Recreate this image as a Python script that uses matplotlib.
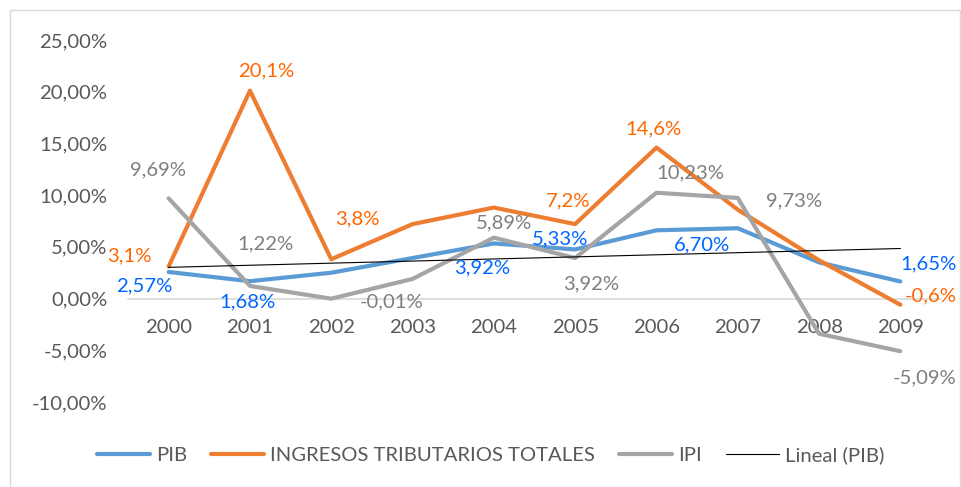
import numpy as np
import matplotlib
matplotlib.use("Agg")
import matplotlib.pyplot as plt
from matplotlib.patches import Rectangle

# -----------------------------
# Data
# -----------------------------
years = ["2000", "2001", "2002", "2003", "2004", "2005", "2006", "2007", "2008", "2009"]
pib = [2.57, 1.68, 2.5, 3.92, 5.33, 4.75, 6.6, 6.8, 3.5, 1.65]
ingresos = [3.1, 20.1, 3.8, 7.2, 8.8, 7.2, 14.6, 8.6, 3.7, -0.6]
ipi = [9.69, 1.22, -0.01, 1.9, 5.89, 3.92, 10.23, 9.73, -3.4, -5.09]

y_ticks = [-10, -5, 0, 5, 10, 15, 20, 25]

# data labels: (index, text, dx, dy) offsets in pixels from the point
pib_labels = [(0, "2,57%", -24, -14), (1, "1,68%", -2, -21), (4, "3,92%", -12, -24),
              (5, "5,33%", -15, 11), (6, "6,70%", 46, -15), (9, "1,65%", 28, 18)]
ing_labels = [(0, "3,1%", -39, 11), (1, "20,1%", 16, 20), (2, "3,8%", 26, 40),
              (5, "7,2%", -7, 23), (6, "14,6%", -3, 19), (9, "-0,6%", 30, 9)]
ipi_labels = [(0, "9,69%", -11, 28), (1, "1,22%", 16, 42), (2, "-0,01%", 60, -3),
              (4, "5,89%", 10, 15), (5, "3,92%", 16, -26), (6, "10,23%", 34, 20),
              (7, "9,73%", 56, -3), (9, "-5,09%", 24, -27)]

BLUE, ORANGE, GRAY = "#5B9BD5", "#ED7D31", "#A5A5A5"
FONT = "Lato"
FS = 14.6

plt.rcParams["font.family"] = [FONT, "DejaVu Sans"]

fig = plt.figure(figsize=(9.61, 4.87), dpi=100)
ax = fig.add_axes([128 / 961, 85 / 487, 813 / 961, 362 / 487])

# chart border
fig.patches.append(Rectangle((10 / 961, -0.01), 950 / 961, 1 - 10 / 487 + 0.01,
                             transform=fig.transFigure, fill=False,
                             edgecolor="#D9D9D9", linewidth=1))

x = np.arange(len(years))
ax.plot(x, pib, color=BLUE, lw=3.0, solid_capstyle="round", label="PIB", zorder=3)
ax.plot(x, ingresos, color=ORANGE, lw=3.0, solid_capstyle="round",
        label="INGRESOS TRIBUTARIOS TOTALES", zorder=3)
ax.plot(x, ipi, color=GRAY, lw=3.0, solid_capstyle="round", label="IPI", zorder=3)

# linear trend of PIB
coef = np.polyfit(x, pib, 1)
ax.plot(x, np.polyval(coef, x), color="black", lw=0.8, label="Lineal (PIB)", zorder=4)

def put_labels(values, labels, color):
    for i, txt, dx, dy in labels:
        ax.annotate(txt, (x[i], values[i]), xytext=(dx, dy), textcoords="offset pixels",
                    ha="center", va="center", color=color, fontsize=FS, zorder=5)

put_labels(pib, pib_labels, "#0066FF")
put_labels(ingresos, ing_labels, "#FF6600")
put_labels(ipi, ipi_labels, "#7F7F7F")

ax.set_xlim(-0.5, len(years) - 0.5)
ax.set_ylim(-10, 25)
ax.set_yticks(y_ticks)
ax.set_yticklabels([f"{v:.2f}%".replace(".", ",") for v in y_ticks])
ax.set_xticks(x)
ax.set_xticklabels(years)

for s in ["top", "right", "left"]:
    ax.spines[s].set_visible(False)
ax.spines["bottom"].set_position(("data", 0))
ax.spines["bottom"].set_color("#D9D9D9")
ax.spines["bottom"].set_linewidth(1.2)
ax.spines["bottom"].set_zorder(1)
ax.tick_params(axis="both", length=0, labelsize=FS, labelcolor="#595959")
ax.tick_params(axis="y", pad=15)
ax.tick_params(axis="x", pad=15)

fig.legend(loc="center", bbox_to_anchor=(0.5 + 10 / 961, 1 - 455 / 487), ncol=4,
           frameon=False, fontsize=FS, labelcolor="#595959", handlelength=2.6,
           columnspacing=1.2, handletextpad=0.3)

fig.savefig("out.png", dpi=100)
